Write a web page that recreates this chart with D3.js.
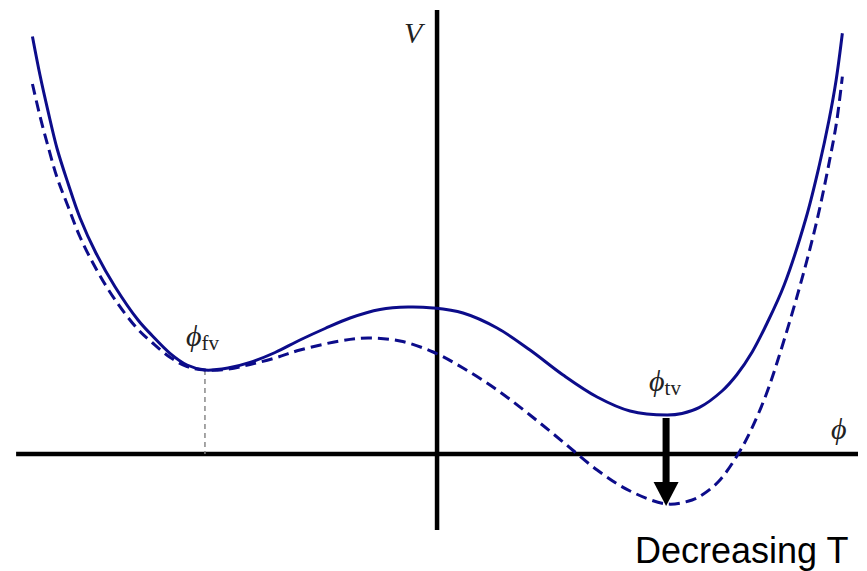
<!DOCTYPE html>
<html>
<head>
<meta charset="utf-8">
<script src="https://cdn.jsdelivr.net/npm/d3@7"></script>
<style>
  html, body { margin: 0; padding: 0; background: #fff; }
  svg { display: block; }
</style>
</head>
<body>
<svg id="chart" width="867" height="571"></svg>
<script>
// Field values (phi) and potential V at the higher temperature (solid curve)
const phiHigh = [-1.759, -1.726, -1.691, -1.652, -1.604, -1.552, -1.483, -1.400, -1.300, -1.239,
                 -1.161, -1.087, -1.009, -0.909, -0.813, -0.704, -0.596, -0.487, -0.378, -0.248,
                 -0.126, -0.017, 0.113, 0.261, 0.404, 0.548, 0.696, 0.839, 1.000, 1.065,
                 1.139, 1.239, 1.304, 1.370, 1.435, 1.509, 1.604, 1.661, 1.704, 1.735, 1.762];
const vHigh   = [4.175, 3.787, 3.426, 3.055, 2.705, 2.36, 2.01, 1.673, 1.34, 1.185,
                 1.007, 0.89, 0.84, 0.86, 0.916, 1.015, 1.14, 1.255, 1.36, 1.445,
                 1.47, 1.46, 1.41, 1.26, 1.04, 0.79, 0.57, 0.43, 0.39, 0.405,
                 0.463, 0.63, 0.795, 1.02, 1.31, 1.69, 2.36, 2.88, 3.34, 3.74, 4.207];

// Potential after cooling (dashed curve)
const phiLow = [-1.759, -1.726, -1.691, -1.652, -1.604, -1.552, -1.483, -1.400, -1.300, -1.239,
                -1.161, -1.087, -1.009, -0.909, -0.813, -0.704, -0.596, -0.422, -0.300, -0.161,
                -0.017, 0.113, 0.261, 0.404, 0.548, 0.696, 0.839, 1.000, 1.109, 1.152,
                1.226, 1.309, 1.365, 1.430, 1.483, 1.574, 1.652, 1.711, 1.737, 1.762];
const vLow   = [3.70, 3.377, 3.075, 2.765, 2.475, 2.17, 1.855, 1.543, 1.245, 1.115,
                0.967, 0.875, 0.84, 0.848, 0.895, 0.96, 1.04, 1.13, 1.16, 1.13,
                1.02, 0.86, 0.64, 0.39, 0.12, -0.16, -0.37, -0.50, -0.46, -0.41,
                -0.27, 0.00, 0.24, 0.59, 0.95, 1.65, 2.34, 2.99, 3.32, 3.773];

// Vacuum positions: false vacuum and true vacuum
const phiFv = -1.009, vFv = 0.84;
const phiTv = 1.0, vTvHigh = 0.39, vTvLow = -0.50;

const svg = d3.select("#chart");

// Origin of the (phi, V) plane sits where the two axes cross
const x = d3.scaleLinear().domain([-1.9, 1.83]).range([0, 858]);
const y = d3.scaleLinear().domain([-0.76, 4.54]).range([530, 0]);

const navy = "#0c0c8a";

// Axes
svg.append("line")
  .attr("x1", x(-1.83)).attr("x2", x(1.83))
  .attr("y1", y(0)).attr("y2", y(0))
  .attr("stroke", "#000").attr("stroke-width", 4.5);
svg.append("line")
  .attr("x1", x(0)).attr("x2", x(0))
  .attr("y1", y(4.44)).attr("y2", y(-0.76))
  .attr("stroke", "#000").attr("stroke-width", 4.5);

// Drop line from the false vacuum down to the phi axis
svg.append("line")
  .attr("x1", x(phiFv)).attr("x2", x(phiFv))
  .attr("y1", y(vFv)).attr("y2", y(0))
  .attr("stroke", "#808080").attr("stroke-width", 1.4)
  .attr("stroke-dasharray", "5,4");

const line = d3.line()
  .x(d => x(d[0]))
  .y(d => y(d[1]))
  .curve(d3.curveCatmullRom.alpha(0.5));

svg.append("path")
  .datum(d3.zip(phiLow, vLow))
  .attr("d", line)
  .attr("fill", "none")
  .attr("stroke", navy)
  .attr("stroke-width", 3)
  .attr("stroke-dasharray", "11,6");

svg.append("path")
  .datum(d3.zip(phiHigh, vHigh))
  .attr("d", line)
  .attr("fill", "none")
  .attr("stroke", navy)
  .attr("stroke-width", 3);

// Arrow showing the true-vacuum minimum dropping as T decreases
const ax = x(phiTv) - 1;
const arrowTop = y(vTvHigh) + 3;
const arrowTip = y(vTvLow) + 2;
const headLen = 24, headHalf = 12.5;
svg.append("rect")
  .attr("x", ax - 3.5).attr("y", arrowTop)
  .attr("width", 7).attr("height", arrowTip - headLen - arrowTop + 1)
  .attr("fill", "#000");
svg.append("path")
  .attr("d", `M${ax - headHalf},${arrowTip - headLen} L${ax + headHalf},${arrowTip - headLen} L${ax},${arrowTip} Z`)
  .attr("fill", "#000");

// Labels
const serif = "'Liberation Serif', 'DejaVu Serif', serif";
svg.append("text")
  .attr("x", x(0) - 33).attr("y", 43)
  .attr("font-family", serif).attr("font-style", "italic")
  .attr("font-size", 30).attr("fill", "#222")
  .text("V");

svg.append("text")
  .attr("x", 831).attr("y", 439)
  .attr("font-family", serif).attr("font-style", "italic")
  .attr("font-size", 30).attr("fill", "#222")
  .text("ϕ");

function vacLabel(px, py, sub) {
  const t = svg.append("text")
    .attr("x", px).attr("y", py)
    .attr("font-family", serif).attr("fill", "#222");
  t.append("tspan").attr("font-style", "italic").attr("font-size", 30).text("ϕ");
  t.append("tspan").attr("font-size", 21).attr("dy", 4).text(sub);
}
vacLabel(x(phiFv) - 19, y(vFv) - 24, "fv");
vacLabel(x(phiTv) - 18, y(vTvHigh) - 24, "tv");

svg.append("text")
  .attr("x", 635).attr("y", 563)
  .attr("font-family", "'Liberation Sans', Arial, sans-serif")
  .attr("font-size", 36).attr("fill", "#000")
  .text("Decreasing T");
</script>
</body>
</html>
